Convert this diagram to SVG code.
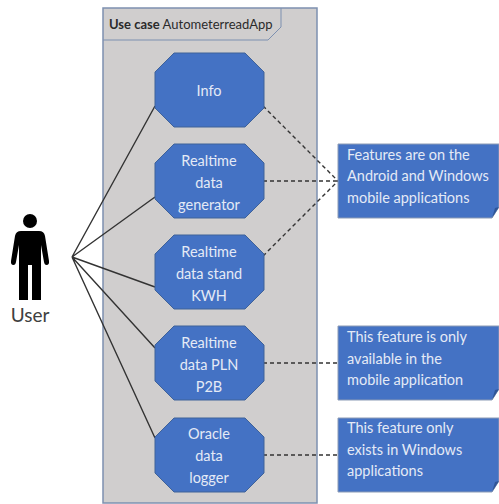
<svg xmlns="http://www.w3.org/2000/svg" width="499" height="504" viewBox="0 0 499 504">
<style>
text{font-family:"Lato","Open Sans","Liberation Sans",sans-serif;font-size:14.5px;fill:#e4eaf6;text-anchor:middle}
.oct{fill:#4472c4;stroke:#3f6299;stroke-width:1}
.note{fill:#4472c4;stroke:#8c9bb5;stroke-width:1}
.fold{fill:#2f5597}
.n text{text-anchor:start}
.solid{fill:none;stroke:#333;stroke-width:1.4}
.dash{fill:none;stroke:#333;stroke-width:1.4;stroke-dasharray:4 3}
</style>
<rect width="499" height="504" fill="#fff"/>
<g id="frame">
<rect x="103" y="8" width="214" height="495" fill="#d0cece" stroke="#7d90b0" stroke-width="1.5"/>
<path d="M103 40H268L281 27V8" fill="none" stroke="#7d90b0" stroke-width="1"/>
<text x="109" y="29" style="text-anchor:start;fill:#2b2b2b;font-size:13px"><tspan font-weight="700">Use case</tspan> AutometerreadApp</text>
</g>
<g id="connectors">
<path class="solid" d="M72 257L155 106M72 257L155 197M72 257L155 287M72 257L155 348M72 257L155 438"/>
<path class="dash" d="M263 106L338 181M263 181H338M263 256L338 181M263 363H338M263 455H338"/>
</g>
<g id="user">
<circle cx="30" cy="221" r="7" fill="#000"/>
<path d="M21 231H39Q44 231 45 236L49 261Q49.500 265 46.500 265Q44.500 265 44 262L41 245V300H32V265H28V300H19V245L16 262Q15.500 265 13.500 265Q10.500 265 11 261L15 236Q16 231 21 231Z" fill="#000"/>
<text x="30" y="322" style="fill:#404040;font-size:19px">User</text>
</g>
<g id="info">
<path class="oct" d="M174 53H245L264 72V108L245 127H174L155 108V72Z"/>
<text x="209" y="96">Info</text>
</g>
<g id="generator">
<path class="oct" d="M174 144H245L264 163V199L245 218H174L155 199V163Z"/>
<text x="209" y="166">Realtime</text><text x="209" y="188">data</text><text x="209" y="210">generator</text>
</g>
<g id="kwh">
<path class="oct" d="M174 235H245L264 254V290L245 309H174L155 290V254Z"/>
<text x="209" y="257">Realtime</text><text x="209" y="279">data stand</text><text x="209" y="301">KWH</text>
</g>
<g id="pln">
<path class="oct" d="M174 326H245L264 345V381L245 400H174L155 381V345Z"/>
<text x="209" y="348">Realtime</text><text x="209" y="370">data PLN</text><text x="209" y="392">P2B</text>
</g>
<g id="oracle">
<path class="oct" d="M174 418H245L264 437V473L245 492H174L155 473V437Z"/>
<text x="209" y="439">Oracle</text><text x="209" y="461">data</text><text x="209" y="483">logger</text>
</g>
<g id="note1" class="n">
<path class="note" d="M338 144H499V207L492 218H338Z"/><path class="fold" d="M492 218L495 208L499 207Z"/>
<text x="347" y="160">Features are on the</text><text x="347" y="181">Android and Windows</text><text x="347" y="203">mobile applications</text>
</g>
<g id="note2" class="n">
<path class="note" d="M338 326H499V389L492 400H338Z"/><path class="fold" d="M492 400L495 390L499 389Z"/>
<text x="347" y="342">This feature is only</text><text x="347" y="364">available in the</text><text x="347" y="385">mobile application</text>
</g>
<g id="note3" class="n">
<path class="note" d="M338 418H499V481L492 492H338Z"/><path class="fold" d="M492 492L495 482L499 481Z"/>
<text x="347" y="433">This feature only</text><text x="347" y="455">exists in Windows</text><text x="347" y="476">applications</text>
</g>
</svg>
